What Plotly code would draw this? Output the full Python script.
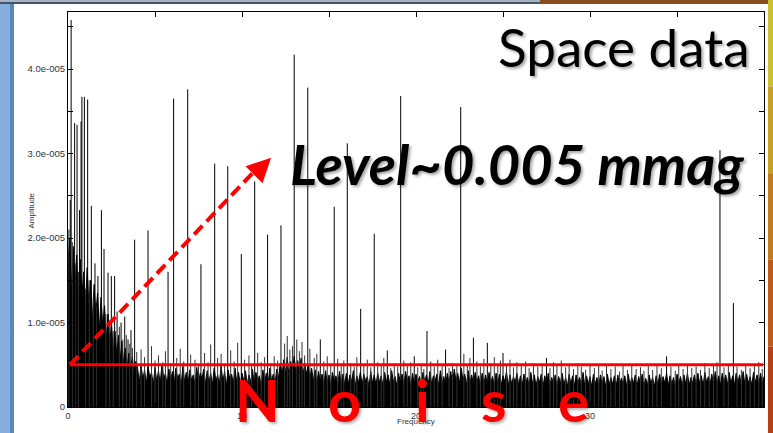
import plotly.graph_objects as go

# ---------------- data (amplitudes in units of 1e-6) ----------------
ENV_STEP = 0.1
noise_core = [
    17, 20, 13, 19, 14, 18, 12, 17.5, 13, 16, 11.5, 16.5, 12, 15, 10, 14.5, 11, 13.5, 9, 13,
    9.5, 12, 8, 11, 7.5, 10, 6.5, 9, 6, 8.5, 5.5, 7.8, 5, 7, 4.6, 6.4, 4.2, 6, 3.8, 5.4,
    4.6, 2.9, 5.0, 3.2, 4.4, 2.7, 4.8, 3.5, 4.1, 2.6, 4.7, 3.0, 4.3, 2.8, 5.1, 3.3, 4.0, 2.6, 4.5, 3.1,
    4.2, 2.7, 4.6, 3.4, 3.9, 2.5, 4.8, 3.0, 4.1, 2.8, 4.4, 3.2, 3.8, 2.6, 4.7, 2.9, 4.0, 3.3, 4.5, 2.7,
    4.3, 2.9, 4.0, 2.6, 4.6, 3.1, 3.8, 2.7, 4.9, 3.0, 4.2, 2.5, 4.4, 3.3, 3.9, 2.8, 4.6, 2.9, 4.1, 2.6,
    4.0, 3.1, 4.3, 2.6, 3.8, 2.9, 4.5, 2.7, 4.1, 3.2, 3.7, 2.5, 4.4, 3.0, 4.0, 2.7, 4.6, 3.1, 3.9, 2.8,
    4.5, 3.4, 5.2, 3.8, 5.6, 4.0, 5.9, 3.6, 5.4, 4.2, 6.0, 3.9, 5.5, 4.4, 5.8, 3.7, 5.2, 3.9, 4.9, 3.5,
    4.6, 3.1, 4.4, 2.8, 4.2, 3.0, 3.9, 2.6, 4.3, 2.9, 3.8, 2.5, 4.1, 3.0, 3.7, 2.6, 4.2, 2.8, 3.9, 2.7,
    4.0, 2.6, 3.8, 3.0, 4.3, 2.5, 3.7, 2.9, 4.1, 2.6, 3.9, 3.1, 3.6, 2.4, 4.2, 2.8, 3.8, 2.6, 4.0, 2.9,
    3.7, 2.5, 4.1, 2.9, 3.8, 2.6, 4.3, 3.0, 3.6, 2.5, 4.0, 2.8, 3.9, 2.6, 4.2, 3.1, 3.7, 2.4, 4.0, 2.7,
    3.9, 2.8, 3.6, 2.5, 4.1, 3.0, 3.8, 2.6, 4.2, 2.7, 3.7, 3.1, 3.9, 2.5, 4.3, 2.8, 3.6, 2.6, 4.0, 2.9,
    4.2, 2.7, 4.5, 3.1, 4.0, 2.8, 4.6, 3.2, 3.9, 2.6, 4.3, 2.9, 3.8, 2.7, 4.1, 3.0, 3.7, 2.5, 4.0, 2.8,
    3.8, 2.6, 4.1, 2.9, 3.6, 2.5, 4.0, 2.8, 3.9, 2.6, 3.7, 3.0, 4.2, 2.5, 3.8, 2.7, 3.6, 2.9, 4.0, 2.6,
    3.7, 2.5, 3.9, 2.8, 3.5, 2.6, 4.1, 2.7, 3.8, 2.5, 3.6, 2.9, 3.9, 2.4, 3.7, 2.7, 4.0, 2.6, 3.5, 2.8,
    3.8, 2.5, 3.6, 2.8, 4.0, 2.6, 3.5, 2.4, 3.9, 2.7, 3.7, 2.5, 3.8, 2.9, 3.5, 2.6, 4.1, 2.5, 3.7, 2.7,
    3.6, 2.4, 3.9, 2.7, 3.5, 2.5, 3.8, 2.8, 3.6, 2.4, 3.9, 2.6, 3.5, 2.7, 3.7, 2.4, 3.8, 2.6, 3.4, 2.8,
    3.7, 2.5, 3.9, 2.6, 3.5, 2.8, 3.8, 2.4, 3.6, 2.7, 3.9, 2.5, 3.4, 2.6, 3.8, 2.8, 3.5, 2.4, 3.7, 2.6,
    3.9, 2.6, 3.6, 2.8, 4.0, 2.5, 3.7, 2.7, 3.5, 2.4, 3.9, 2.8, 3.6, 2.5, 3.8, 2.7, 4.0, 2.6, 3.5, 2.8,
    3.8, 2.6, 4.0, 2.8, 3.7, 2.5, 4.1, 2.9, 3.6, 2.7, 3.9, 2.6, 4.2, 2.8, 3.7, 2.5, 4.0, 2.9, 3.8, 2.6,
    4.1, 2.8, 3.7, 2.6, 4.0, 2.9, 3.8, 2.5, 4.2, 2.7, 3.9, 2.8, 3.6, 2.6, 4.1, 2.9, 3.8, 2.7, 4.0, 2.8,
    3.6]
noise_freq = [round(i * ENV_STEP, 2) for i in range(len(noise_core))]

grass_freq = [0.05, 0.25, 0.45, 0.6, 1.0, 1.22, 1.45, 1.65, 2.18, 2.4, 2.6, 2.95, 3.15, 3.35, 3.55, 3.7, 3.95,
              4.2, 4.4, 4.8, 5.0, 5.2, 5.45, 5.6, 5.9, 6.25, 6.45, 6.65, 7.05, 7.3, 7.5, 7.85, 8.05, 8.2,
              8.6, 8.8, 9.0, 9.35, 9.55, 9.75, 10.15, 10.4, 10.55, 10.9, 11.1, 11.3, 11.65, 11.85, 12.05,
              12.45, 12.6, 12.75, 12.9, 13.15, 13.3, 13.45, 13.6, 13.9, 14.15, 14.3, 14.7, 14.9, 15.1,
              15.5, 15.7, 15.85, 16.25, 16.45, 16.6, 17.0, 17.2, 17.4, 17.8, 18.0, 18.15, 18.55, 18.75,
              18.95, 19.3, 19.5, 19.7, 20.1, 20.3, 20.45, 20.85, 21.05, 21.25, 21.5, 21.9, 22.1, 22.35,
              22.75, 22.95, 23.1, 23.5, 23.7, 23.9, 24.3, 24.5, 24.7, 24.85, 25.2, 25.4, 25.6, 25.8,
              26.05, 26.3, 26.5, 26.75, 27.0, 27.25, 27.7, 27.9, 28.1, 28.35, 28.6, 28.8, 29.05, 29.3,
              29.5, 29.75, 30.0, 30.25, 30.5, 30.7, 30.95, 31.2, 31.45, 31.7, 31.9, 32.15, 32.4, 32.65,
              32.9, 33.1, 33.35, 33.6, 33.85, 34.1, 34.65, 34.9, 35.1, 35.35, 35.6, 35.85, 36.1, 36.35,
              36.6, 36.85, 37.1, 37.3, 37.7, 37.95, 38.45, 38.7, 38.95, 39.2, 39.45, 39.7, 39.9]
grass_amp = [21, 19.5, 17, 16, 14, 15, 13, 12, 11, 10, 9, 9.5, 8, 8.5, 7.5, 7, 6.5,
             6.8, 5.9, 7.2, 5.5, 6.1, 5.3, 6.6, 5.2, 5.8, 6.9, 5.4, 6.2, 5.6, 4.9, 6.4, 5.3, 7.4,
             5.8, 6.3, 5.1, 6.7, 5.4, 7.6, 5.6, 6.1, 5.0, 6.4, 5.3, 5.9, 5.2, 6.0, 5.5,
             7.5, 8.4, 6.8, 7.2, 8.0, 6.6, 7.7, 6.1, 6.9, 5.8, 6.3, 5.4, 6.0, 5.1,
             5.7, 4.9, 5.5, 5.2, 4.8, 5.9, 5.0, 5.6, 4.7, 5.3, 4.9, 5.8, 4.6, 5.2,
             4.8, 5.5, 4.9, 5.3, 4.7, 5.1, 4.5, 5.4, 4.8, 5.6, 5.0, 4.6, 5.2, 4.9,
             6.3, 5.1, 5.8, 5.4, 4.8, 5.7, 5.2, 5.9, 4.9, 5.5, 5.0, 5.6, 4.7, 5.3,
             4.9, 5.4, 4.6, 5.2, 4.8, 5.1, 4.6, 5.3, 4.9, 5.5, 4.7, 5.0, 4.5, 5.2,
             4.8, 4.4, 5.1, 4.6, 4.9, 4.3, 5.0, 4.5, 4.8, 4.2, 4.9, 4.4, 5.0, 4.5,
             4.7, 4.3, 4.9, 4.4, 5.0, 4.6, 4.8, 4.3, 4.9, 4.5, 5.1, 4.6, 4.8, 4.4,
             5.2, 4.6, 4.9, 5.3, 4.7, 5.0, 4.8, 4.4, 5.1, 4.6, 4.9, 5.3, 4.5]

peak_freq = [0.13, 0.18, 0.38, 0.52, 0.66, 0.75, 0.80, 0.94, 1.13, 1.34, 1.55, 1.72, 1.92, 2.07,
             2.30, 2.49, 2.68, 2.82, 3.05, 3.26, 3.45, 3.62, 3.83, 4.6, 5.75, 6.07, 6.88, 7.64,
             8.43, 9.18, 9.96, 10.73, 11.47, 12.24, 13.0, 13.78, 14.5, 15.3, 16.05, 16.82, 17.6,
             18.35, 19.12, 19.9, 20.63, 21.7, 22.57, 23.3, 24.1, 25.0, 27.5, 34.4, 37.47, 38.24]
peak_amp = [24.5, 45.8, 33.6, 33.4, 23.3, 33.8, 36.7, 36.7, 36.4, 23.8, 17.0, 15.5, 23.3, 18.7,
            15.9, 15.5, 15.5, 11.3, 10.0, 10.7, 8.0, 9.1, 19.8, 20.9, 16.0, 36.5, 37.6, 16.9,
            28.8, 28.5, 18.1, 26.7, 20.4, 21.5, 41.7, 37.8, 8.0, 23.7, 31.2, 11.6, 20.5,
            6.7, 36.8, 6.0, 9.0, 6.8, 35.5, 8.2, 7.6, 6.4, 5.8, 6.0, 30.4, 12.3]

NOISE_LEVEL = 5.0  # 1e-6 units, red "noise" line
UNIT = 1e-6

x_tick_vals = [0, 5, 10, 15, 20, 25, 30, 35]
x_tick_text = ["0", "", "10", "", "20", "", "30", ""]
y_tick_vals = [0, 5, 10, 15, 20, 25, 30, 35, 40, 45]
y_tick_text = ["0", "", "1.0e-005", "", "2.0e-005", "", "3.0e-005", "", "4.0e-005", ""]

X_MAX = 40.0
Y_MAX = 46.75

# ---------------- figure ----------------
def sticks(freqs, amps):
    xs, ys = [], []
    for f, a in zip(freqs, amps):
        xs += [f, f, None]
        ys += [0, a * UNIT, None]
    return xs, ys

fig = go.Figure()
fig.add_trace(go.Scatter(x=noise_freq, y=[v * UNIT for v in noise_core], mode="lines",
                         line=dict(color="#000000", width=1), fill="tozeroy",
                         fillcolor="#000000", hoverinfo="skip"))
gx, gy = sticks(grass_freq, grass_amp)
fig.add_trace(go.Scatter(x=gx, y=gy, mode="lines", line=dict(color="#333333", width=1)))
px_, py_ = sticks(peak_freq, peak_amp)
fig.add_trace(go.Scatter(x=px_, y=py_, mode="lines", line=dict(color="#000000", width=1)))

W, H = 773, 433
L, R, T, B = 68, 9, 12, 26
pw, ph = W - L - R, H - T - B

def xp(px):
    return (px - L) / pw

def yp(py):
    return (H - B - py) / ph

shapes = []
# slide decorations
shapes.append(dict(type="rect", xref="paper", yref="paper", x0=xp(0), x1=xp(10), y0=yp(433), y1=yp(0),
                   fillcolor="#86aedb", line=dict(width=0), layer="below"))
shapes.append(dict(type="rect", xref="paper", yref="paper", x0=xp(10), x1=xp(14), y0=yp(433), y1=yp(0),
                   fillcolor="#5786c0", line=dict(width=0), layer="below"))
shapes.append(dict(type="rect", xref="paper", yref="paper", x0=xp(0), x1=xp(773), y0=yp(4), y1=yp(0),
                   fillcolor="#42566e", line=dict(width=0), layer="below"))
shapes.append(dict(type="rect", xref="paper", yref="paper", x0=xp(0), x1=xp(773), y0=yp(2), y1=yp(0),
                   fillcolor="#a9b3bd", line=dict(width=0), layer="below"))
shapes.append(dict(type="rect", xref="paper", yref="paper", x0=xp(540), x1=xp(773), y0=yp(4), y1=yp(0),
                   fillcolor="#8a4a1c", line=dict(width=0), layer="below"))
right_cols = ["#c9c02a", "#c8a022", "#c47a1c", "#c05a16", "#b84012"]
for i, c in enumerate(right_cols):
    shapes.append(dict(type="rect", xref="paper", yref="paper", x0=xp(768), x1=xp(773),
                       y0=yp(433 * (i + 1) / 5), y1=yp(433 * i / 5),
                       fillcolor=c, line=dict(width=0), layer="below"))
# noise level line
shapes.append(dict(type="line", xref="x", yref="y", x0=0.1, x1=X_MAX - 0.05,
                   y0=NOISE_LEVEL * UNIT, y1=NOISE_LEVEL * UNIT,
                   line=dict(color="#ff0000", width=3)))
# dashed arrow shaft
ARROW_TIP = (11.67, 29.5)
shapes.append(dict(type="line", xref="x", yref="y", x0=0.12, y0=NOISE_LEVEL * UNIT,
                   x1=ARROW_TIP[0] - 0.5, y1=(ARROW_TIP[1] - 0.6) * UNIT,
                   line=dict(color="#ff0000", width=4, dash="12px,6px")))

shadow = "2px 2px 3px rgba(0,0,0,0.35)"
annotations = [
    dict(x=ARROW_TIP[0], y=ARROW_TIP[1] * UNIT, xref="x", yref="y", ax=-14, ay=14,
         showarrow=True, arrowhead=2, arrowsize=1.2, arrowwidth=4, arrowcolor="#ff0000", text=""),
    dict(x=xp(752), y=yp(46), xref="paper", yref="paper", xanchor="right", yanchor="middle",
         text="Space data", showarrow=False,
         font=dict(family="Lato", size=53, color="#000000", shadow=shadow)),
    dict(x=xp(517), y=yp(163), xref="paper", yref="paper", xanchor="center", yanchor="middle",
         text="Level~0.005 mmag", showarrow=False,
         font=dict(family="Lato", size=56, color="#000000", weight="bold", style="italic", shadow=shadow)),
    dict(x=xp(24), y=yp(210), xref="paper", yref="paper", text="Amplitude", textangle=-90,
         showarrow=False, font=dict(family="Liberation Sans", size=8, color="#333333")),
    dict(x=xp(416), y=yp(428), xref="paper", yref="paper", text="Frequency",
         showarrow=False, font=dict(family="Liberation Sans", size=8, color="#333333")),
]
noise_letters = ["N", "o", "i", "s", "e"]
noise_px = [257, 344, 422, 494, 573]
for ch, p in zip(noise_letters, noise_px):
    annotations.append(dict(x=xp(p), y=yp(399), xref="paper", yref="paper", xanchor="center",
                            yanchor="middle", text=ch, showarrow=False,
                            font=dict(family="Lato", size=58, color="#ff0000", weight="bold",
                                      shadow="2px 2px 3px rgba(0,0,0,0.3)")))

fig.update_layout(
    width=W, height=H, margin=dict(l=L, r=R, t=T, b=B),
    paper_bgcolor="#ffffff", plot_bgcolor="#ffffff", showlegend=False,
    shapes=shapes, annotations=annotations,
    xaxis=dict(range=[0, X_MAX], tickvals=x_tick_vals, ticktext=x_tick_text, ticks="inside",
               ticklen=5, tickcolor="#000", showline=True, linecolor="#000", linewidth=1,
               mirror="allticks", showgrid=False, zeroline=False,
               tickfont=dict(family="Liberation Sans", size=9, color="#333333")),
    yaxis=dict(range=[0, Y_MAX * UNIT], tickvals=[v * UNIT for v in y_tick_vals], ticktext=y_tick_text,
               ticks="inside", ticklen=5, tickcolor="#000", showline=True, linecolor="#000",
               linewidth=1, mirror="allticks", showgrid=False, zeroline=False,
               tickfont=dict(family="Liberation Sans", size=9.5, color="#333333")),
)
fig.write_html("out.html")
